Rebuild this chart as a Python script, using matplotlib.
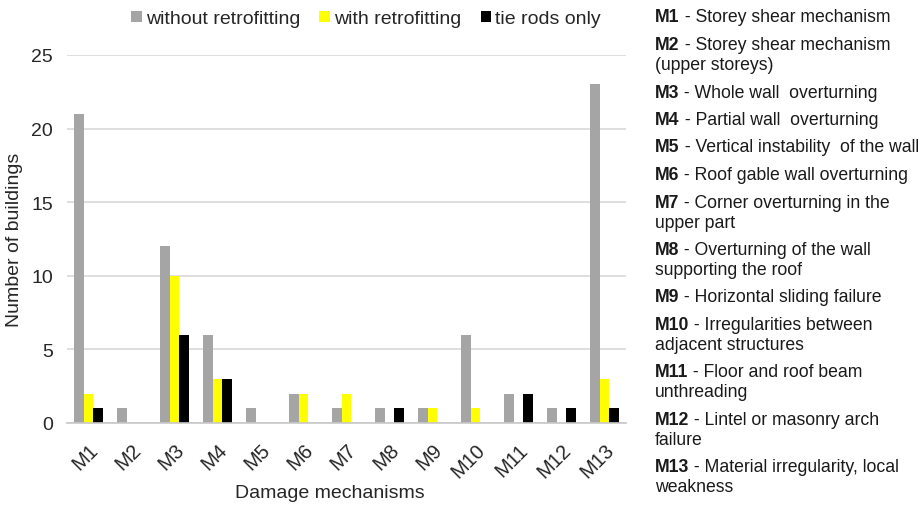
import matplotlib.pyplot as plt
import numpy as np

plt.rcParams['font.family'] = ['Liberation Sans', 'DejaVu Sans']

# data
mechanisms = ['M1', 'M2', 'M3', 'M4', 'M5', 'M6', 'M7', 'M8', 'M9', 'M10', 'M11', 'M12', 'M13']
without_retro = [21, 1, 12, 6, 1, 2, 1, 1, 1, 6, 2, 1, 23]
with_retro = [2, 0, 10, 3, 0, 2, 2, 0, 1, 1, 0, 0, 3]
tie_rods = [1, 0, 6, 3, 0, 0, 0, 1, 0, 0, 2, 1, 1]

# side legend: (code, first line, wrapped line)
descriptions = [
    ('M1', 'Storey shear mechanism', None),
    ('M2', 'Storey shear mechanism', '(upper storeys)'),
    ('M3', 'Whole wall  overturning', None),
    ('M4', 'Partial wall  overturning', None),
    ('M5', 'Vertical instability  of the wall', None),
    ('M6', 'Roof gable wall overturning', None),
    ('M7', 'Corner overturning in the', 'upper part'),
    ('M8', 'Overturning of the wall', 'supporting the roof'),
    ('M9', 'Horizontal sliding failure', None),
    ('M10', 'Irregularities between', 'adjacent structures'),
    ('M11', 'Floor and roof beam', 'unthreading'),
    ('M12', 'Lintel or masonry arch', 'failure'),
    ('M13', 'Material irregularity, local', 'weakness'),
]

W, H = 923, 506
fig = plt.figure(figsize=(W / 100, H / 100), dpi=100)
ax = fig.add_axes([67 / W, 1 - 424 / H, (626 - 67) / W, (424 - 56) / H])

x = np.arange(len(mechanisms))
bw = 0.23
ax.bar(x - bw, without_retro, bw, color='#A5A5A5', label='without retrofitting')
ax.bar(x, with_retro, bw, color='#FFFF00', label='with retrofitting')
ax.bar(x + bw, tie_rods, bw, color='#000000', label='tie rods only')

ax.set_ylim(0, 25)
ax.set_xlim(-0.5, len(mechanisms) - 0.5)
ax.set_yticks([0, 5, 10, 15, 20, 25])
ax.yaxis.grid(True, color='#D9D9D9', linewidth=1.2)
ax.set_axisbelow(True)
for s in ['top', 'right', 'left']:
    ax.spines[s].set_visible(False)
ax.spines['bottom'].set_color('#C8C8C8')
ax.spines['bottom'].set_linewidth(1.2)
ax.tick_params(length=0, labelsize=14, colors='#262626')
ax.tick_params(axis='y', pad=10)
ax.set_xticks(x)
ax.set_xticklabels(mechanisms, rotation=45, ha='right', rotation_mode='anchor')
ax.tick_params(axis='x', pad=12, labelsize=14.5)

fig.text(15 / W, 1 - 240 / H, 'Number of buildings', rotation=90, fontsize=14,
         color='#262626', ha='center', va='center')
fig.text(330 / W, 1 - 494 / H, 'Damage mechanisms', fontsize=14,
         color='#262626', ha='center', va='center')

fig.legend(loc='center', bbox_to_anchor=(366 / W, 1 - 20 / H), ncol=3, frameon=False,
           fontsize=14, handlelength=0.55, handleheight=0.55, handletextpad=0.2,
           columnspacing=1.0, labelcolor='#262626')

# mechanism descriptions on the right
y = 18
for code, line1, line2 in descriptions:
    t = fig.text(655 / W, 1 - y / H, code, fontsize=12.7, fontweight='bold',
                 color='#1a1a1a', va='center', ha='left')
    ax.annotate(' - ' + line1, xy=(1, 1 - y / H), xycoords=(t, 'figure fraction'),
                fontsize=12.7, color='#1a1a1a', va='center', ha='left',
                annotation_clip=False)
    if line2:
        y += 20
        fig.text(655 / W, 1 - y / H, line2, fontsize=12.7, color='#1a1a1a',
                 va='center', ha='left')
    y += 27.5

fig.savefig('out.png', dpi=100)
